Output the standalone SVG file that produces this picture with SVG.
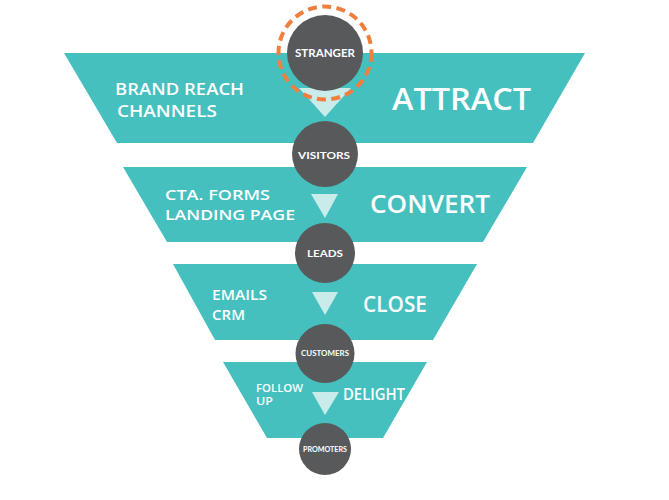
<svg xmlns="http://www.w3.org/2000/svg" width="669" height="500" viewBox="0 0 669 500">
<style>
.band{fill:#45c0bf}
.node{fill:#58595b}
.arrow{fill:#c9ecea}
.ring{fill:none;stroke:#f07f3f;stroke-width:4;stroke-dasharray:9 5.4}
text{font-family:"Lato","Open Sans","Liberation Sans",sans-serif;fill:#ffffff}
.lbl{font-weight:bold}
.stage{font-weight:600;font-family:"Open Sans","Lato","Liberation Sans",sans-serif}
.side{font-weight:600;font-family:"Open Sans","Lato","Liberation Sans",sans-serif}
</style>
<rect width="669" height="500" fill="#ffffff"/>
<g id="attract">
<polygon class="band" points="64,53 585,53 533,143 117,143"/>
<text class="side" x="115" y="95" font-size="17" textLength="129" lengthAdjust="spacingAndGlyphs">BRAND REACH</text>
<text class="side" x="117" y="117" font-size="17" textLength="100" lengthAdjust="spacingAndGlyphs">CHANNELS</text>
<text class="stage" x="392" y="110" font-size="30" textLength="139" lengthAdjust="spacingAndGlyphs">ATTRACT</text>
</g>
<g id="convert">
<polygon class="band" points="123,167 527,167 483,242 167,242"/>
<text class="side" x="165" y="200" font-size="15" textLength="105" lengthAdjust="spacingAndGlyphs">CTA. FORMS</text>
<text class="side" x="165" y="220" font-size="15" textLength="130" lengthAdjust="spacingAndGlyphs">LANDING PAGE</text>
<text class="stage" x="370" y="213" font-size="25" textLength="120" lengthAdjust="spacingAndGlyphs">CONVERT</text>
</g>
<g id="close">
<polygon class="band" points="173,264 477,264 433,340 215,340"/>
<text class="side" x="212" y="300" font-size="15" textLength="55" lengthAdjust="spacingAndGlyphs">EMAILS</text>
<text class="side" x="212" y="320" font-size="15" textLength="33" lengthAdjust="spacingAndGlyphs">CRM</text>
<text class="stage" x="363" y="312" font-size="21" textLength="64" lengthAdjust="spacingAndGlyphs">CLOSE</text>
</g>
<g id="delight">
<polygon class="band" points="223,362 427,362 383,438 267,438"/>
<text class="side" x="256" y="392" font-size="10.5" textLength="47" lengthAdjust="spacingAndGlyphs">FOLLOW</text>
<text class="side" x="256" y="405" font-size="10.5" textLength="17" lengthAdjust="spacingAndGlyphs">UP</text>
<text class="stage" x="343" y="400" font-size="16" textLength="62" lengthAdjust="spacingAndGlyphs">DELIGHT</text>
</g>
<g id="connectors">
<polygon class="arrow" points="299,88 351,88 325,117"/>
<polygon class="arrow" points="311,194 338,194 325,218"/>
<polygon class="arrow" points="312,292 338,292 325,315"/>
<polygon class="arrow" points="312,392 339,392 325,415"/>
</g>
<g id="stranger">
<circle class="node" cx="325" cy="53" r="38"/>
<circle class="ring" cx="325" cy="53" r="46.5"/>
<text class="lbl" x="295" y="57" font-size="11" textLength="60" lengthAdjust="spacingAndGlyphs">STRANGER</text>
</g>
<g id="visitors">
<circle class="node" cx="325" cy="154" r="33"/>
<text class="lbl" x="298" y="159" font-size="10" textLength="52" lengthAdjust="spacingAndGlyphs">VISITORS</text>
</g>
<g id="leads">
<circle class="node" cx="325" cy="253" r="30"/>
<text class="lbl" x="307" y="257" font-size="10" textLength="36" lengthAdjust="spacingAndGlyphs">LEADS</text>
</g>
<g id="customers">
<circle class="node" cx="325" cy="353.5" r="29.5"/>
<text class="lbl" x="301" y="356" font-size="7.5" textLength="48" lengthAdjust="spacingAndGlyphs">CUSTOMERS</text>
</g>
<g id="promoters">
<circle class="node" cx="325" cy="449" r="26"/>
<text class="lbl" x="303" y="452" font-size="7" textLength="44" lengthAdjust="spacingAndGlyphs">PROMOTERS</text>
</g>
</svg>
